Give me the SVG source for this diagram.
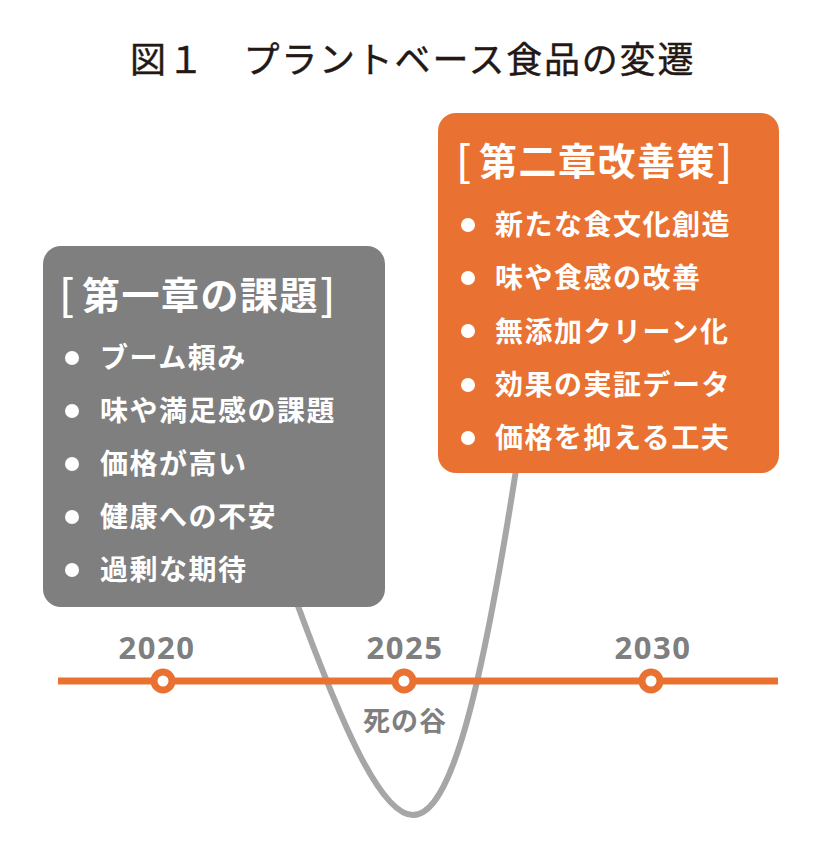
<svg xmlns="http://www.w3.org/2000/svg" width="820" height="860" viewBox="0 0 820 860">
  <style>
    .jp { font-family: "Noto Sans CJK JP", "Noto Sans", sans-serif; }
    .title { font-size: 36px; fill: #231815; letter-spacing: 1.8px; font-weight: 400; stroke: #231815; stroke-width: 0.4px; }
    .head { font-size: 38px; font-weight: 700; fill: #ffffff; letter-spacing: 1.5px; }
    .brk { font-weight: 500; font-size: 43px; }
    .item { font-size: 28px; font-weight: 700; fill: #ffffff; letter-spacing: 1.5px; }
    .bullet { fill: #ffffff; }
    .year { font-family: "Noto Sans", "DejaVu Sans", sans-serif; font-size: 31px; font-weight: 700; fill: #7f7f7f; letter-spacing: 1.5px; text-anchor: middle; }
    .valley { font-size: 27px; font-weight: 700; fill: #7f7f7f; letter-spacing: 1px; text-anchor: middle; }
    .tick { fill: #ffffff; stroke: #e97132; stroke-width: 7; }
  </style>

  <text class="jp title" x="130" y="73">図１　プラントベース食品の変遷</text>

  <g id="connectors">
    <path id="valley-curve" d="M 298 606 C 340 720, 380 815, 413 815 C 450 815, 480 700, 516 470" fill="none" stroke="#a6a6a6" stroke-width="6" stroke-linecap="round"/>
  </g>

  <g id="timeline">
    <line x1="58" y1="681" x2="778" y2="681" stroke="#e97132" stroke-width="7"/>
    <circle class="tick" cx="163" cy="681" r="9"/>
    <circle class="tick" cx="404" cy="681" r="9"/>
    <circle class="tick" cx="651" cy="681" r="9"/>
    <text class="year" x="157" y="659">2020</text>
    <text class="year" x="405" y="659">2025</text>
    <text class="year" x="653" y="659">2030</text>
    <text class="jp valley" x="405" y="731">死の谷</text>
  </g>

  <g id="chapter1">
    <rect x="43" y="246" width="342" height="361" rx="18" fill="#7f7f7f"/>
    <text class="jp head" y="311"><tspan class="brk" x="59">[</tspan><tspan x="82" dy="-2">第一章の課題</tspan><tspan class="brk" x="320" dy="2">]</tspan></text>
    <circle class="bullet" cx="72" cy="358" r="7"/>
    <circle class="bullet" cx="72" cy="411" r="7"/>
    <circle class="bullet" cx="72" cy="464" r="7"/>
    <circle class="bullet" cx="72" cy="517" r="7"/>
    <circle class="bullet" cx="72" cy="570" r="7"/>
    <text class="jp item" x="100" y="368">ブーム頼み</text>
    <text class="jp item" x="100" y="421">味や満足感の課題</text>
    <text class="jp item" x="100" y="474">価格が高い</text>
    <text class="jp item" x="100" y="527">健康への不安</text>
    <text class="jp item" x="100" y="580">過剰な期待</text>
  </g>

  <g id="chapter2">
    <rect x="438" y="113" width="341" height="360" rx="18" fill="#e97132"/>
    <text class="jp head" y="177"><tspan class="brk" x="456">[</tspan><tspan x="479" dy="-2">第二章改善策</tspan><tspan class="brk" x="717" dy="2">]</tspan></text>
    <circle class="bullet" cx="468" cy="225" r="7"/>
    <circle class="bullet" cx="468" cy="278" r="7"/>
    <circle class="bullet" cx="468" cy="331" r="7"/>
    <circle class="bullet" cx="468" cy="385" r="7"/>
    <circle class="bullet" cx="468" cy="438" r="7"/>
    <text class="jp item" x="495" y="235">新たな食文化創造</text>
    <text class="jp item" x="495" y="288">味や食感の改善</text>
    <text class="jp item" x="495" y="342">無添加クリーン化</text>
    <text class="jp item" x="495" y="395">効果の実証データ</text>
    <text class="jp item" x="495" y="448">価格を抑える工夫</text>
  </g>
</svg>
